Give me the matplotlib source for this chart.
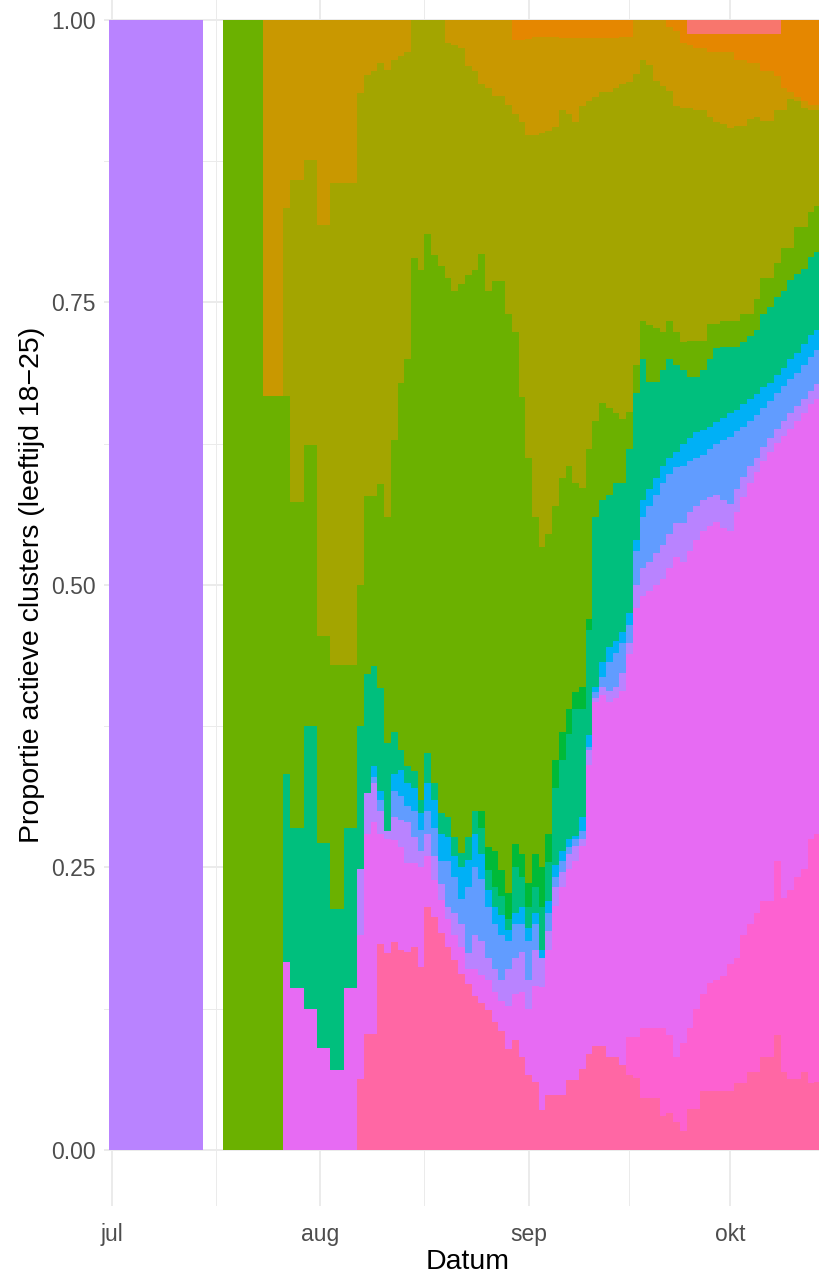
import numpy as np
import pandas as pd
import matplotlib
matplotlib.use('Agg')
import matplotlib.pyplot as plt
import matplotlib.dates as mdates

plt.rcParams['font.family'] = ['Liberation Sans', 'DejaVu Sans']

# dagen met data: 1-14 juli (alleen 1 cluster), daarna 18 juli - 14 okt
jul_dates = pd.date_range('2020-07-01', '2020-07-14')
dates = pd.date_range('2020-07-18', '2020-10-14')

jul_lavender = [1.0, 1.0, 1.0, 1.0, 1.0, 1.0, 1.0, 1.0, 1.0, 1.0, 1.0, 1.0, 1.0, 1.0]

cum_pink = ([0.0] * 20 +
            [0.063, 0.103, 0.103, 0.182,
             0.174, 0.184, 0.177, 0.175, 0.18, 0.162, 0.215, 0.206, 0.192, 0.18,
             0.168, 0.156, 0.147, 0.136, 0.13, 0.124, 0.113, 0.105, 0.089, 0.097,
             0.082, 0.066, 0.06, 0.035, 0.049, 0.049, 0.049, 0.062, 0.062, 0.072,
             0.085, 0.092, 0.092, 0.082, 0.082, 0.075, 0.066, 0.064, 0.046, 0.046,
             0.046, 0.03, 0.033, 0.025, 0.017, 0.036, 0.036, 0.052, 0.052, 0.052,
             0.052, 0.052, 0.059, 0.059, 0.069, 0.069, 0.082, 0.082, 0.102, 0.069,
             0.063, 0.063, 0.069, 0.059, 0.06])
cum_hotpink = ([0.0] * 20 +
               [0.063, 0.103, 0.103, 0.182,
                0.174, 0.184, 0.177, 0.175, 0.18, 0.162, 0.215, 0.206, 0.192, 0.18,
                0.168, 0.156, 0.147, 0.136, 0.13, 0.124, 0.113, 0.105, 0.089, 0.097,
                0.082, 0.066, 0.06, 0.035, 0.049, 0.049, 0.049, 0.062, 0.062, 0.072,
                0.085, 0.092, 0.092, 0.082, 0.082, 0.075, 0.10, 0.10, 0.108, 0.108,
                0.108, 0.108, 0.102, 0.082, 0.095, 0.108, 0.125, 0.138, 0.148, 0.15,
                0.154, 0.165, 0.17, 0.19, 0.2, 0.21, 0.22, 0.22, 0.256, 0.223,
                0.23, 0.242, 0.249, 0.275, 0.28])
cum_magenta = ([0.0] * 9 +
               [0.166, 0.143, 0.143, 0.125, 0.125, 0.09, 0.09, 0.071, 0.071, 0.143, 0.143,
                0.19, 0.28, 0.29, 0.28,
                0.275, 0.274, 0.268, 0.254, 0.254, 0.25, 0.26, 0.239, 0.221, 0.204,
                0.19, 0.18, 0.16, 0.16, 0.155, 0.15, 0.14, 0.132, 0.127, 0.138,
                0.14, 0.125, 0.145, 0.144, 0.177, 0.216, 0.233, 0.249, 0.256, 0.269,
                0.341, 0.396, 0.403, 0.396, 0.40, 0.406, 0.439, 0.48, 0.49, 0.495,
                0.50, 0.505, 0.515, 0.525, 0.52, 0.53, 0.54, 0.548, 0.552, 0.556,
                0.55, 0.548, 0.565, 0.578, 0.59, 0.60, 0.61, 0.618, 0.626, 0.632,
                0.638, 0.645, 0.652, 0.66, 0.665])
cum_lavender = ([0.0] * 9 +
                [0.166, 0.143, 0.143, 0.125, 0.125, 0.09, 0.09, 0.071, 0.071, 0.143, 0.143,
                 0.249, 0.316, 0.325, 0.30,
                 0.282, 0.295, 0.292, 0.29, 0.277, 0.265, 0.28, 0.26, 0.235, 0.215,
                 0.21, 0.2, 0.174, 0.19, 0.185, 0.17, 0.16, 0.15, 0.16, 0.17,
                 0.175, 0.15, 0.177, 0.17, 0.194, 0.233, 0.246, 0.262, 0.269, 0.275,
                 0.354, 0.40, 0.41, 0.406, 0.41, 0.422, 0.449, 0.50, 0.515, 0.52,
                 0.528, 0.535, 0.545, 0.555, 0.555, 0.565, 0.57, 0.575, 0.578, 0.58,
                 0.575, 0.572, 0.585, 0.596, 0.605, 0.612, 0.622, 0.63, 0.638, 0.645,
                 0.652, 0.658, 0.665, 0.672, 0.678])
cum_blue = ([0.0] * 9 +
            [0.166, 0.143, 0.143, 0.125, 0.125, 0.09, 0.09, 0.071, 0.071, 0.143, 0.143,
             0.249, 0.316, 0.33, 0.31,
             0.282, 0.318, 0.313, 0.304, 0.30, 0.283, 0.30, 0.285, 0.256, 0.256,
             0.242, 0.222, 0.233, 0.25, 0.24, 0.215, 0.2, 0.19, 0.185, 0.2,
             0.2, 0.185, 0.2, 0.17, 0.21, 0.242, 0.256, 0.268, 0.275, 0.282,
             0.357, 0.405, 0.419, 0.432, 0.44, 0.449, 0.465, 0.53, 0.56, 0.57,
             0.58, 0.59, 0.598, 0.604, 0.605, 0.61, 0.612, 0.615, 0.62, 0.625,
             0.628, 0.631, 0.636, 0.64, 0.645, 0.65, 0.657, 0.663, 0.67, 0.676,
             0.682, 0.688, 0.695, 0.702, 0.708])
cum_lightblue = ([0.0] * 9 +
                 [0.166, 0.143, 0.143, 0.125, 0.125, 0.09, 0.09, 0.071, 0.071, 0.143, 0.143,
                  0.249, 0.316, 0.34, 0.318,
                  0.282, 0.333, 0.336, 0.325, 0.32, 0.298, 0.325, 0.31, 0.28, 0.277,
                  0.26, 0.25, 0.257, 0.28, 0.262, 0.23, 0.215, 0.208, 0.195, 0.21,
                  0.215, 0.196, 0.21, 0.177, 0.22, 0.252, 0.265, 0.275, 0.278, 0.295,
                  0.367, 0.41, 0.432, 0.445, 0.45, 0.458, 0.475, 0.54, 0.575, 0.585,
                  0.595, 0.605, 0.612, 0.618, 0.625, 0.63, 0.635, 0.637, 0.64, 0.644,
                  0.648, 0.652, 0.655, 0.66, 0.665, 0.669, 0.675, 0.679, 0.686, 0.692,
                  0.70, 0.705, 0.713, 0.721, 0.726])
cum_teal = ([0.0] * 9 +
            [0.333, 0.285, 0.285, 0.375, 0.375, 0.272, 0.272, 0.213, 0.213, 0.285, 0.285,
             0.375, 0.421, 0.428, 0.409,
             0.36, 0.37, 0.354, 0.34, 0.335, 0.31, 0.351, 0.325, 0.298, 0.295,
             0.277, 0.263, 0.277, 0.30, 0.285, 0.248, 0.233, 0.225, 0.204, 0.25,
             0.242, 0.215, 0.233, 0.215, 0.255, 0.32, 0.345, 0.368, 0.39, 0.39,
             0.46, 0.56, 0.575, 0.58, 0.59, 0.59, 0.62, 0.67, 0.70, 0.68,
             0.68, 0.69, 0.70, 0.695, 0.69, 0.684, 0.684, 0.69, 0.70, 0.71,
             0.711, 0.711, 0.711, 0.715, 0.72, 0.726, 0.74, 0.746, 0.755, 0.76,
             0.77, 0.775, 0.78, 0.79, 0.795])
cum_green = ([0.0] * 9 +
             [0.333, 0.285, 0.285, 0.375, 0.375, 0.272, 0.272, 0.213, 0.213, 0.285, 0.285,
              0.375, 0.421, 0.428, 0.409,
              0.36, 0.37, 0.354, 0.34, 0.335, 0.31, 0.351, 0.325, 0.298, 0.295,
              0.277, 0.263, 0.277, 0.30, 0.30, 0.268, 0.265, 0.248, 0.227, 0.271,
              0.262, 0.236, 0.262, 0.25, 0.28, 0.345, 0.37, 0.39, 0.405, 0.41,
              0.47, 0.56, 0.575, 0.58, 0.59, 0.59, 0.62, 0.67, 0.70, 0.68,
              0.68, 0.69, 0.70, 0.695, 0.69, 0.684, 0.684, 0.69, 0.70, 0.71,
              0.711, 0.711, 0.711, 0.715, 0.72, 0.726, 0.74, 0.746, 0.755, 0.76,
              0.77, 0.775, 0.78, 0.79, 0.795])
cum_lime = ([1.0] * 6 + [0.667] * 3 +
            [0.667, 0.573, 0.573, 0.624, 0.624, 0.455, 0.455, 0.429, 0.429, 0.429, 0.429,
             0.50, 0.579, 0.579, 0.589,
             0.56, 0.628, 0.679, 0.70, 0.789, 0.779, 0.811, 0.792, 0.782, 0.772,
             0.76, 0.766, 0.774, 0.779, 0.793, 0.76, 0.769, 0.769, 0.74, 0.724,
             0.666, 0.612, 0.56, 0.534, 0.545, 0.57, 0.595, 0.605, 0.59, 0.586,
             0.62, 0.645, 0.661, 0.657, 0.652, 0.647, 0.653, 0.695, 0.734, 0.73,
             0.727, 0.724, 0.734, 0.724, 0.715, 0.716, 0.716, 0.716, 0.731, 0.731,
             0.734, 0.734, 0.734, 0.74, 0.74, 0.753, 0.772, 0.772, 0.785, 0.798,
             0.798, 0.817, 0.817, 0.83, 0.835])
cum_olive = ([1.0] * 6 + [0.667] * 3 +
             [0.834, 0.858, 0.858, 0.876, 0.876, 0.819, 0.819, 0.856, 0.856, 0.856, 0.856,
              0.935, 0.951, 0.955, 0.962,
              0.956, 0.965, 0.968, 0.972, 1.0, 1.0, 1.0, 1.0, 1.0, 0.98,
              0.978, 0.975, 0.959, 0.955, 0.943, 0.94, 0.933, 0.933, 0.925, 0.917,
              0.91, 0.898, 0.898, 0.90, 0.902, 0.905, 0.92, 0.917, 0.91, 0.924,
              0.928, 0.932, 0.936, 0.936, 0.94, 0.943, 0.945, 0.952, 0.965, 0.96,
              0.946, 0.942, 0.937, 0.924, 0.922, 0.922, 0.92, 0.92, 0.914, 0.91,
              0.908, 0.904, 0.906, 0.906, 0.912, 0.914, 0.911, 0.911, 0.92, 0.92,
              0.93, 0.928, 0.922, 0.92, 0.92])
cum_brown = ([1.0] * 43 +
             [0.982, 0.982, 0.983, 0.985, 0.985, 0.985, 0.985, 0.984, 0.984, 0.984,
              0.984, 0.984, 0.984, 0.984, 0.984, 0.984, 0.985, 0.985,
              1.0, 1.0, 1.0, 1.0, 1.0,
              0.994, 0.99, 0.98, 0.978, 0.975, 0.975, 0.972, 0.972,
              0.972, 0.972, 0.965, 0.965, 0.962, 0.962, 0.955, 0.955, 0.95, 0.94,
              0.936, 0.932, 0.928, 0.925, 0.925])
cum_orange = [1.0] * 69 + [0.988] * 14 + [1.0] * 6

layers = [
    (cum_pink, '#FF67A4'),
    (cum_hotpink, '#FD61D1'),
    (cum_magenta, '#E76BF3'),
    (cum_lavender, '#B983FF'),
    (cum_blue, '#619CFF'),
    (cum_lightblue, '#00B0F6'),
    (cum_teal, '#00BF7D'),
    (cum_green, '#00BA38'),
    (cum_lime, '#6BB100'),
    (cum_olive, '#A3A500'),
    (cum_brown, '#C99800'),
    (cum_orange, '#E58700'),
    (np.ones(len(dates)), '#F8766D'),
]

fig = plt.figure(figsize=(8.19, 12.75), dpi=100)
ax = fig.add_axes([104 / 819, 69 / 1275, 715 / 819, 1206 / 1275])

# julidagen: een cluster
ax.bar(jul_dates, jul_lavender, width=1.0, color='#B983FF', linewidth=0,
       antialiased=False, zorder=2)

lower = np.zeros(len(dates))
for cum, col in layers:
    upper = np.array(cum, dtype=float)
    ax.bar(dates, upper - lower, bottom=lower, width=1.0, color=col,
           linewidth=0, antialiased=False, zorder=2)
    lower = upper

# assen zoals ggplot theme_minimal
start = mdates.date2num(pd.Timestamp('2020-07-01'))
ax.set_xlim(start - 1.19, start + 105.21)
ax.set_ylim(-0.0496, 1.0177)

month_ticks = [pd.Timestamp(d) for d in ['2020-07-01', '2020-08-01', '2020-09-01', '2020-10-01']]
ax.set_xticks(month_ticks)
ax.set_xticklabels(['jul', 'aug', 'sep', 'okt'])
ax.set_xticks([start + 15.5, start + 46.5, start + 77.0], minor=True)
ax.set_yticks([0, 0.25, 0.5, 0.75, 1.0])
ax.set_yticklabels(['0.00', '0.25', '0.50', '0.75', '1.00'])
ax.set_yticks([0.125, 0.375, 0.625, 0.875], minor=True)

ax.grid(which='major', color='#EBEBEB', linewidth=1.4)
ax.grid(which='minor', color='#EBEBEB', linewidth=0.7)
ax.set_axisbelow(True)
for s in ax.spines.values():
    s.set_visible(False)

ax.tick_params(which='both', length=0)
ax.tick_params(axis='y', labelsize=16.5, labelcolor='#4D4D4D', pad=6)
ax.tick_params(axis='x', labelsize=16.5, labelcolor='#4D4D4D', pad=12)

ax.set_xlabel('Datum', fontsize=20.5)
ax.set_ylabel('Proportie actieve clusters (leeftijd 18\u221225)', fontsize=20.5)
ax.xaxis.set_label_coords(0.508, -0.036)
ax.yaxis.set_label_coords(-0.083, 0.515)

fig.savefig('out.png', dpi=100)
